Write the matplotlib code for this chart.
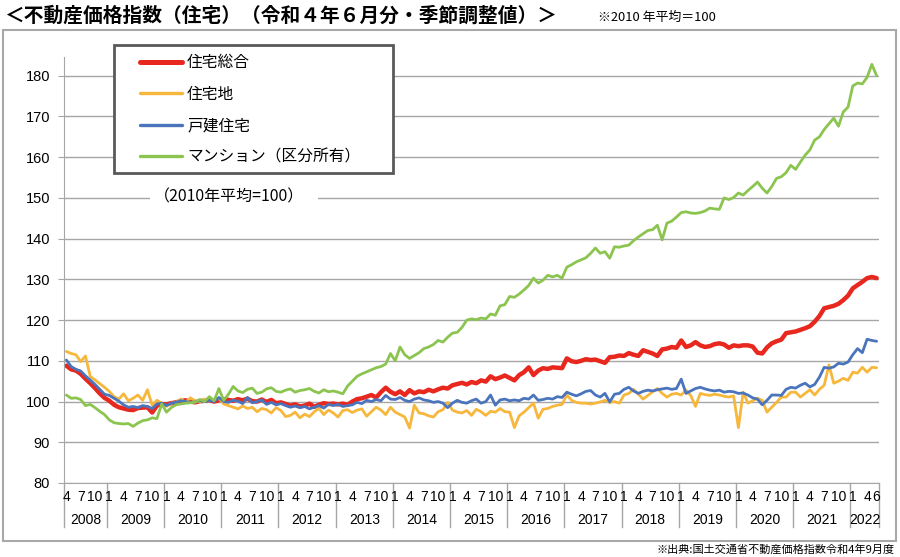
import matplotlib
matplotlib.use('Agg')
import matplotlib.pyplot as plt
import matplotlib.transforms as mtransforms
from matplotlib.patches import Rectangle
import numpy as np

# ── フォント設定 ──
plt.rcParams['font.family'] = ['Noto Sans CJK JP', 'DejaVu Sans']
NUM_FONT = ['Liberation Sans', 'DejaVu Sans']

# ── 期間 (2008年4月〜2022年6月, 月次) ──
YEARS = list(range(2008, 2023))
FIRST_MONTH = 4   # 2008年の開始月
LAST_MONTH = 6    # 2022年の終了月

# ── 指数データ (2010年平均=100, 季節調整値) ──
# 1行 = 1年 (2008年は4月から, 2022年は6月まで)
sogo = [
    108.8, 107.9, 107.6, 106.8, 105.6, 104.5, 103.3, 102.0, 100.9,
    100.2, 99.2, 98.6, 98.3, 98.0, 97.9, 98.4, 98.5, 98.6, 97.3, 99.0, 99.4,
    99.3, 99.6, 99.8, 100.1, 100.3, 100.0, 99.8, 100.1, 100.2, 100.4, 100.0, 100.3,
    100.6, 100.4, 100.2, 100.6, 100.3, 100.7, 100.1, 100.0, 100.5, 99.9, 100.4, 99.6,
    99.8, 99.4, 99.0, 99.3, 98.8, 99.0, 99.5, 98.7, 99.2, 99.6, 99.4, 99.5,
    99.3, 99.5, 99.2, 100.0, 100.6, 100.8, 101.2, 101.6, 101.0, 102.3, 103.4, 102.4,
    101.8, 102.5, 101.6, 102.8, 102.0, 102.5, 102.3, 102.9, 102.5, 103.0, 103.4, 103.2,
    104.0, 104.3, 104.6, 104.2, 104.8, 104.5, 105.2, 104.9, 106.2, 105.5, 105.9, 106.4,
    105.8, 105.2, 106.5, 107.2, 108.4, 106.5, 107.6, 108.2, 108.0, 108.4, 108.3, 108.2,
    110.6, 109.9, 109.7, 110.0, 110.4, 110.2, 110.3, 109.9, 109.5, 110.9, 111.0, 111.3,
    111.2, 111.9, 111.5, 111.2, 112.6, 112.2, 111.8, 111.2, 112.8, 113.0, 113.4, 113.2,
    115.0, 113.4, 113.8, 114.6, 113.8, 113.4, 113.6, 114.1, 114.3, 114.0, 113.2, 113.8,
    113.6, 113.8, 113.8, 113.5, 112.0, 111.8, 113.3, 114.3, 114.8, 115.2, 116.8, 117.0,
    117.2, 117.6, 118.0, 118.5, 119.6, 121.0, 122.9, 123.2, 123.5, 124.0, 124.9, 126.0,
    127.8, 128.6, 129.4, 130.3, 130.6, 130.3,
]
jutakuchi = [
    112.3, 111.8, 111.5, 109.8, 111.2, 106.2, 105.3, 104.4, 103.5,
    102.5, 101.2, 100.6, 101.9, 100.2, 100.8, 101.6, 100.3, 102.9, 99.1, 100.3, 99.6,
    98.8, 99.6, 99.8, 100.6, 99.8, 100.9, 100.2, 99.9, 100.6, 100.2, 100.5, 100.8,
    99.4, 99.0, 98.6, 98.2, 98.9, 98.3, 98.6, 97.5, 98.3, 98.0, 97.2, 98.5,
    97.8, 96.3, 96.6, 97.4, 96.0, 96.9, 96.3, 97.5, 98.3, 96.8, 97.9, 97.2,
    96.2, 97.8, 98.0, 97.3, 97.9, 98.2, 96.4, 97.5, 98.6, 97.9, 96.8, 98.6,
    97.4, 96.8, 96.2, 93.5, 99.1, 97.2, 97.0, 96.5, 96.2, 97.5, 98.0, 99.8,
    97.9, 97.4, 97.2, 97.8, 96.6, 98.1, 97.5, 96.6, 97.6, 97.4, 98.3, 97.5,
    97.4, 93.6, 96.5, 97.4, 98.5, 99.6, 95.9, 98.1, 98.3, 98.8, 99.1, 99.3,
    101.6, 100.3, 99.8, 99.6, 99.6, 99.4, 99.6, 99.9, 100.3, 99.8, 100.0, 99.6,
    101.6, 102.0, 103.0, 101.8, 100.6, 101.5, 102.4, 103.2, 102.0, 101.1, 101.8, 102.0,
    101.6, 102.8, 101.5, 98.8, 102.0, 101.7, 101.5, 101.8, 101.6, 101.3, 101.1, 101.4,
    93.6, 102.3, 99.6, 100.2, 100.8, 100.3, 97.4, 98.6, 99.8, 101.1, 101.1, 102.3,
    102.3, 101.1, 102.0, 102.9, 101.6, 103.0, 104.0, 109.0, 104.5, 105.0, 105.7, 105.2,
    107.2, 107.0, 108.4, 107.2, 108.4, 108.3,
]
kodate = [
    110.2, 108.6, 107.9, 107.5, 106.3, 105.3, 104.2, 103.0, 101.8,
    101.5, 100.8, 100.1, 99.2, 98.6, 98.8, 98.5, 99.0, 98.8, 98.3, 99.4, 99.6,
    99.0, 99.6, 99.8, 100.2, 100.0, 99.8, 99.9, 100.2, 100.0, 100.3, 100.0, 101.0,
    100.0, 99.8, 100.3, 100.1, 99.5, 101.0, 99.7, 100.0, 100.4, 99.3, 99.8, 99.2,
    99.5, 99.0, 98.6, 98.9, 98.5, 98.8, 98.2, 98.6, 99.0, 98.4, 99.3, 99.0,
    99.3, 98.8, 99.0, 99.2, 99.8, 99.5, 100.3, 100.0, 100.5, 100.2, 101.5, 100.6,
    100.5, 101.0, 100.3, 100.0, 100.6, 100.9, 100.4, 100.2, 99.8, 100.0, 99.6, 98.5,
    99.6, 100.3, 99.8, 99.6, 100.2, 100.6, 99.6, 100.0, 101.6, 99.1, 100.4, 100.6,
    100.2, 100.4, 100.2, 100.8, 100.6, 101.6, 100.3, 100.5, 100.8, 100.6, 101.2, 101.0,
    102.3, 101.8, 101.4, 101.9, 102.5, 102.7, 101.6, 101.1, 102.0, 99.9, 101.8, 102.0,
    103.0, 103.5, 102.6, 102.0, 102.5, 102.8, 102.6, 102.9, 103.1, 103.3, 103.0, 103.2,
    105.5, 102.0, 102.6, 103.2, 103.5, 103.1, 102.8, 102.6, 102.8, 102.3, 102.5, 102.4,
    102.0, 102.1, 101.6, 100.9, 100.6, 99.2, 100.3, 101.6, 101.6, 101.5, 103.0, 103.5,
    103.3, 104.0, 104.5, 103.6, 104.2, 106.0, 108.4, 108.2, 108.5, 109.4, 109.2, 109.7,
    111.5, 113.0, 112.0, 115.3, 115.0, 114.8,
]
mansion = [
    101.6, 100.8, 100.9, 100.5, 99.0, 99.3, 98.5, 97.6, 96.8,
    95.5, 94.8, 94.6, 94.5, 94.6, 93.9, 94.7, 95.3, 95.5, 96.0, 95.8, 99.4,
    97.4, 98.5, 99.2, 99.4, 99.6, 99.7, 99.8, 100.5, 100.0, 101.2, 100.2, 103.2,
    100.3, 101.8, 103.7, 102.6, 102.2, 103.0, 103.3, 102.0, 102.3, 103.1, 103.4, 102.5,
    102.3, 102.8, 103.1, 102.3, 102.7, 102.9, 103.2, 102.5, 102.1, 102.9, 102.4, 102.6,
    102.3, 101.9, 103.8, 105.0, 106.2, 106.8, 107.3, 107.8, 108.3, 108.6, 109.2, 111.8,
    110.0, 113.4, 111.5, 110.6, 111.3, 112.0, 113.0, 113.4, 114.0, 115.0, 114.6, 115.8,
    116.8, 117.0, 118.2, 120.0, 120.3, 120.1, 120.5, 120.3, 121.5, 121.2, 123.5, 123.8,
    125.8, 125.6, 126.4, 127.4, 128.5, 130.3, 129.1, 129.8, 131.0, 130.6, 131.0, 130.3,
    133.0, 133.6, 134.3, 134.8, 135.3, 136.4, 137.7, 136.4, 136.8, 135.2, 138.0, 137.9,
    138.2, 138.4, 139.5, 140.4, 141.2, 142.0, 142.2, 143.3, 139.7, 143.8, 144.3, 145.3,
    146.4, 146.6, 146.3, 146.2, 146.4, 146.8, 147.5, 147.3, 147.2, 150.0, 149.6, 150.1,
    151.2, 150.7, 151.8, 152.8, 153.9, 152.4, 151.2, 152.8, 154.8, 155.2, 156.2, 158.0,
    157.0, 158.8, 160.5, 161.8, 164.2, 165.0, 166.8, 168.2, 169.6, 167.6, 171.1, 172.3,
    177.5, 178.2, 178.0, 179.6, 182.8, 180.0,
]

# ── 系列設定 (描画順 = 凡例順) ──
SERIES = [
    ('住宅総合', sogo, '#E8281E', 3.2),
    ('住宅地', jutakuchi, '#F6B73C', 2.0),
    ('戸建住宅', kodate, '#4A74BC', 2.0),
    ('マンション（区分所有）', mansion, '#8CC450', 2.0),
]

W, H = 900, 557


def fx(px):
    return px / W


def fy(py):
    return 1 - py / H


# 月ラベル用の (年, 月) リスト
months = []
for y in YEARS:
    m0 = FIRST_MONTH if y == YEARS[0] else 1
    m1 = LAST_MONTH if y == YEARS[-1] else 12
    for m in range(m0, m1 + 1):
        months.append((y, m))
n = len(months)
x = np.arange(n)

fig = plt.figure(figsize=(W / 100, H / 100), dpi=100)

# 外枠
fig.patches.append(Rectangle((fx(3), fy(541)), fx(893), (541 - 30) / H,
                             transform=fig.transFigure, fill=False,
                             edgecolor='#A8A8A8', linewidth=1.5))

ax = fig.add_axes([fx(64), fy(483), fx(815), (483 - 57) / H])

for label, vals, color, lw in SERIES:
    ax.plot(x, vals, color=color, linewidth=lw, label=label,
            solid_joinstyle='round', solid_capstyle='round')

ax.set_xlim(-0.5, n - 0.5)
ax.set_ylim(80, 184.6)
ax.set_yticks(range(80, 181, 10))
ax.set_yticklabels([str(v) for v in range(80, 181, 10)], family=NUM_FONT, fontsize=10.5)
ax.grid(axis='y', color='#A6A6A6', linewidth=1.0)
ax.set_axisbelow(True)
ax.set_xticks([])
for side in ['top', 'right']:
    ax.spines[side].set_visible(False)
ax.spines['left'].set_color('#A6A6A6')
ax.spines['bottom'].set_color('#A6A6A6')
ax.tick_params(axis='y', length=4, color='#A6A6A6', pad=6)

# ── 2段の項目軸 (月 / 年) ──
trans = mtransforms.blended_transform_factory(ax.transData, ax.transAxes)
ax_h = 483 - 57
month_y = -14 / ax_h
year_y = -37 / ax_h
sep_bottom = -44 / ax_h

for i, (y, m) in enumerate(months):
    if m in (1, 4, 7, 10) or (y == YEARS[-1] and m == LAST_MONTH):
        ax.text(i, month_y, str(m), transform=trans, ha='center', va='center',
                family=NUM_FONT, fontsize=10)

for y in YEARS:
    idx = [i for i, (yy, _) in enumerate(months) if yy == y]
    ax.text((idx[0] + idx[-1]) / 2, year_y, str(y), transform=trans,
            ha='center', va='center', family=NUM_FONT, fontsize=10)
    ax.plot([idx[0] - 0.5] * 2, [0, sep_bottom], transform=trans,
            color='#A6A6A6', linewidth=1.0, clip_on=False)
ax.plot([n - 0.5] * 2, [0, sep_bottom], transform=trans,
        color='#A6A6A6', linewidth=1.0, clip_on=False)

# 凡例 (枠は別に描く)
fig.patches.append(Rectangle((fx(114), fy(173)), fx(279), (173 - 45) / H,
                             transform=fig.transFigure, facecolor='white',
                             edgecolor='#595959', linewidth=2.0, zorder=4))
handles, labels = ax.get_legend_handles_labels()
leg = fig.legend(handles, labels, loc='upper left',
                 bbox_to_anchor=(fx(140), fy(54)), fontsize=11.3,
                 handlelength=2.7, handletextpad=0.3, labelspacing=0.93,
                 borderpad=0, borderaxespad=0, frameon=False)
leg.set_zorder(6)
for h, (_, _, _, lw) in zip(leg.get_lines(), SERIES):
    h.set_linewidth(lw + 0.4)

# 注記
fig.patches.append(Rectangle((fx(150), fy(207)), fx(168), 19 / H,
                             transform=fig.transFigure, facecolor='white',
                             edgecolor='none', zorder=3))
fig.text(fx(154), fy(197), '（2010年平均=100）', fontsize=11.5, va='center',
         ha='left', zorder=4)

# タイトル
fig.text(fx(4), fy(16), '＜不動産価格指数（住宅）（令和４年６月分・季節調整値）＞',
         fontsize=14.2, fontweight='bold', va='center', ha='left')
fig.text(fx(598), fy(17), '※2010 年平均＝100', fontsize=9.3, va='center', ha='left')
fig.text(fx(895), fy(549), '※出典:国土交通省不動産価格指数令和4年9月度',
         fontsize=8, va='center', ha='right')

fig.savefig('out.png', dpi=100)
plt.close(fig)
